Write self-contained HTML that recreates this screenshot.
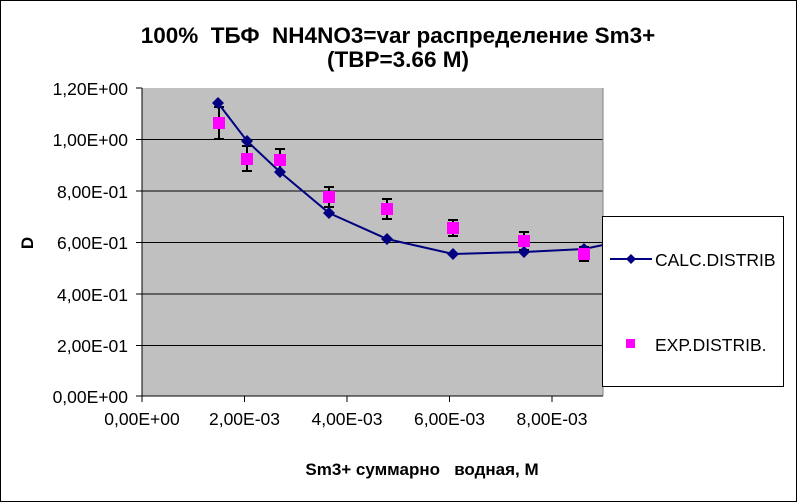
<!DOCTYPE html><html><head><style>body{margin:0;background:#fff}svg{display:block}text{font-family:"Liberation Sans",Arial,sans-serif;white-space:pre}</style></head><body>
<svg width="798" height="503" xmlns="http://www.w3.org/2000/svg" xml:space="preserve">
<rect x="0.5" y="0.5" width="796" height="501" fill="#fff" stroke="#000"/>
<text x="398" y="43" font-size="22.5" font-weight="bold" text-anchor="middle">100%  ТБФ  NH4NO3=var распределение Sm3+</text>
<text x="398" y="67" font-size="22.5" font-weight="bold" text-anchor="middle">(ТВР=3.66 М)</text>
<rect x="142" y="88" width="461" height="308" fill="#c0c0c0"/>
<g stroke="#000" stroke-width="1">
<line x1="142" y1="139.5" x2="603" y2="139.5"/><line x1="142" y1="191" x2="603" y2="191"/><line x1="142" y1="242.5" x2="603" y2="242.5"/><line x1="142" y1="294" x2="603" y2="294"/><line x1="142" y1="345.5" x2="603" y2="345.5"/>
<line x1="142" y1="88" x2="142" y2="396"/><line x1="142" y1="396" x2="603" y2="396"/>
<line x1="136" y1="88" x2="142" y2="88"/><line x1="136" y1="139.5" x2="142" y2="139.5"/><line x1="136" y1="191" x2="142" y2="191"/><line x1="136" y1="242.5" x2="142" y2="242.5"/><line x1="136" y1="294" x2="142" y2="294"/><line x1="136" y1="345.5" x2="142" y2="345.5"/><line x1="136" y1="396" x2="142" y2="396"/>
<line x1="142" y1="396" x2="142" y2="402"/><line x1="244.5" y1="396" x2="244.5" y2="402"/><line x1="347" y1="396" x2="347" y2="402"/><line x1="449.5" y1="396" x2="449.5" y2="402"/><line x1="552" y1="396" x2="552" y2="402"/>
</g>
<line x1="603" y1="88" x2="603" y2="396" stroke="#808080"/>
<g font-size="17.5" text-anchor="end">
<text x="128" y="95">1,20E+00</text><text x="128" y="146">1,00E+00</text><text x="128" y="198">8,00E-01</text><text x="128" y="249">6,00E-01</text><text x="128" y="301">4,00E-01</text><text x="128" y="352">2,00E-01</text><text x="128" y="403">0,00E+00</text>
</g>
<g font-size="17.5" text-anchor="middle">
<text x="142" y="425">0,00E+00</text><text x="244.5" y="425">2,00E-03</text><text x="347" y="425">4,00E-03</text><text x="449.5" y="425">6,00E-03</text><text x="552" y="425">8,00E-03</text>
</g>
<text x="422" y="475" font-size="17" font-weight="bold" text-anchor="middle">Sm3+ суммарно   водная, М</text>
<text transform="translate(33,243) rotate(-90)" font-size="17" font-weight="bold" text-anchor="middle">D</text>
<g stroke="#000" stroke-width="2">
<path d="M219 107V139M214 107h10M214 139h10"/><path d="M247 146V171M242 146h10M242 171h10"/><path d="M280 149V172M275 149h10M275 172h10"/><path d="M329 187V207M324 187h10M324 207h10"/><path d="M387 199V219M382 199h10M382 219h10"/><path d="M453 220V236M448 220h10M448 236h10"/><path d="M524 232V250M519 232h10M519 250h10"/><path d="M584 247V261M579 247h10M579 261h10"/>
</g>
<polyline points="218,103 247,141 280,172 329,213 387,239 453,254 524,252 584,249 603,245" fill="none" stroke="#000080" stroke-width="2"/>
<g fill="#000080">
<path d="M218 97l6 6-6 6-6-6z"/><path d="M247 135l6 6-6 6-6-6z"/><path d="M280 166l6 6-6 6-6-6z"/><path d="M329 207l6 6-6 6-6-6z"/><path d="M387 233l6 6-6 6-6-6z"/><path d="M453 248l6 6-6 6-6-6z"/><path d="M524 246l6 6-6 6-6-6z"/><path d="M584 243l6 6-6 6-6-6z"/>
</g>
<g fill="#ff00ff">
<rect x="213" y="117" width="12" height="12"/><rect x="241" y="153" width="12" height="12"/><rect x="274" y="154" width="12" height="12"/><rect x="323" y="191" width="12" height="12"/><rect x="381" y="203" width="12" height="12"/><rect x="447" y="222" width="12" height="12"/><rect x="518" y="235" width="12" height="12"/><rect x="578" y="248" width="12" height="12"/>
</g>
<rect x="602.5" y="216.5" width="181" height="170" fill="#fff" stroke="#000"/>
<line x1="610" y1="259" x2="652" y2="259" stroke="#000080" stroke-width="2"/>
<path d="M631 254l5 5-5 5-5-5z" fill="#000080"/>
<text x="655" y="266" font-size="17.5">CALC.DISTRIB</text>
<rect x="626" y="339" width="9" height="9" fill="#ff00ff"/>
<text x="655" y="351" font-size="17.5">EXP.DISTRIB.</text>
</svg></body></html>
